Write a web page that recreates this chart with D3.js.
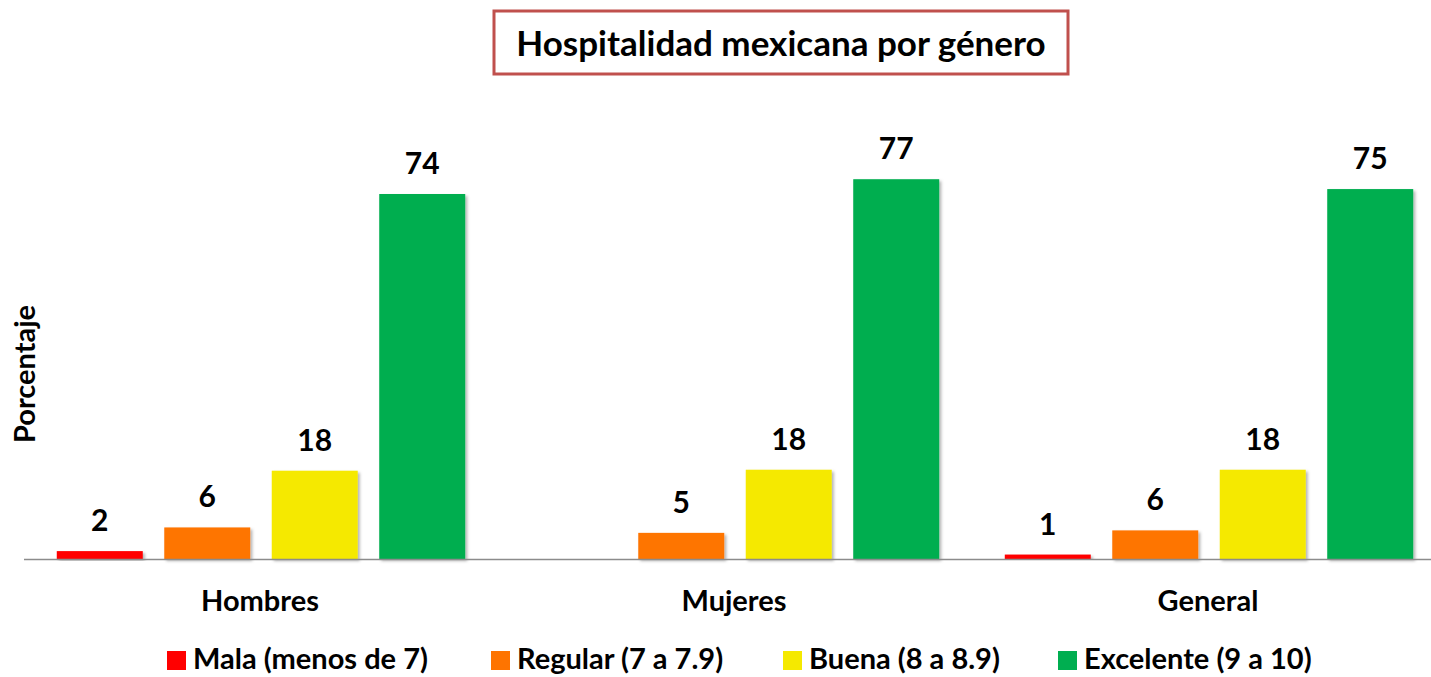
<!DOCTYPE html>
<html>
<head>
<meta charset="utf-8">
<script src="https://cdn.jsdelivr.net/npm/d3@7"></script>
<style>
  body { margin: 0; background: #fff; }
  text { font-family: Lato, "Open Sans", sans-serif; font-weight: bold; fill: #000; }
</style>
</head>
<body>
<div id="container"></div>
<script>
// Data.
const groups = ['Hombres', 'Mujeres', 'General'];
const series = ['Mala (menos de 7)', 'Regular (7 a 7.9)', 'Buena (8 a 8.9)', 'Excelente (9 a 10)'];
const colours = ['#ff0000', '#fe7400', '#f5e900', '#00ae50'];
const hombres = [1.6, 6.4, 17.9, 74];
const mujeres = [null, 5.3, 18.1, 77];
const general = [0.9, 5.8, 18.1, 75];
const values = [hombres, mujeres, general];

const width = 1431, height = 677;
const baseline = 559;

const svg = d3.select('#container')
  .append('svg')
  .attr('width', width)
  .attr('height', height);

// Drop shadow for bars.
const defs = svg.append('defs');
const f = defs.append('filter').attr('id', 'shadow')
  .attr('x', '-10%').attr('y', '-10%').attr('width', '130%').attr('height', '130%');
f.append('feDropShadow')
  .attr('dx', 2).attr('dy', 2).attr('stdDeviation', 1.5)
  .attr('flood-color', '#000').attr('flood-opacity', 0.3);

// Scales.
const x0 = d3.scaleBand().domain(groups).range([24, 1446]);
const x1 = d3.scaleBand().domain(series).range([0, x0.bandwidth()])
  .paddingInner(0.2).paddingOuter(0.305);
const y = d3.scaleLinear().domain([0, 74]).range([baseline, 194]);
const fmt = d3.format('.0f');

// Title box.
svg.append('rect')
  .attr('x', 494).attr('y', 11).attr('width', 574).attr('height', 63)
  .attr('fill', '#fff').attr('stroke', '#c0504d').attr('stroke-width', 3);
svg.append('text')
  .attr('x', 781).attr('y', 56)
  .attr('text-anchor', 'middle')
  .attr('font-size', 35)
  .text('Hospitalidad mexicana por género');

// Y label.
svg.append('text')
  .attr('transform', 'translate(35,374) rotate(-90)')
  .attr('text-anchor', 'middle')
  .attr('font-size', 29)
  .text('Porcentaje');

// Bars.
const gGroups = svg.append('g')
  .selectAll('g')
  .data(groups)
  .join('g')
  .attr('transform', d => `translate(${x0(d)},0)`);

const cells = gGroups.selectAll('g')
  .data((d, i) => series.map((s, j) => ({ s, v: values[i][j], c: colours[j] })).filter(e => e.v != null))
  .join('g');

cells.append('rect')
  .attr('x', d => x1(d.s))
  .attr('width', x1.bandwidth())
  .attr('y', d => y(d.v))
  .attr('height', d => baseline - y(d.v))
  .attr('fill', d => d.c)
  .attr('filter', 'url(#shadow)');

cells.append('text')
  .attr('x', d => x1(d.s) + x1.bandwidth() / 2)
  .attr('y', d => y(d.v) - 20)
  .attr('text-anchor', 'middle')
  .attr('font-size', 30)
  .text(d => fmt(d.v));

// Axis line.
svg.append('line')
  .attr('x1', 24).attr('x2', width)
  .attr('y1', baseline + 0.5).attr('y2', baseline + 0.5)
  .attr('stroke', '#8c8c8c').attr('stroke-width', 1.5);

// Category labels.
svg.append('g')
  .selectAll('text')
  .data(groups)
  .join('text')
  .attr('x', d => x0(d) + x0.bandwidth() / 2 - 1)
  .attr('y', 611)
  .attr('text-anchor', 'middle')
  .attr('font-size', 29)
  .text(d => d);

// Legend.
const legendX = [167, 491, 783, 1058];
const legend = svg.append('g')
  .selectAll('g')
  .data(series)
  .join('g')
  .attr('transform', (d, i) => `translate(${legendX[i]},651)`);
legend.append('rect')
  .attr('width', 19).attr('height', 19)
  .attr('fill', (d, i) => colours[i]);
legend.append('text')
  .attr('x', 26).attr('y', 18)
  .attr('font-size', 29)
  .text(d => d);
</script>
</body>
</html>
